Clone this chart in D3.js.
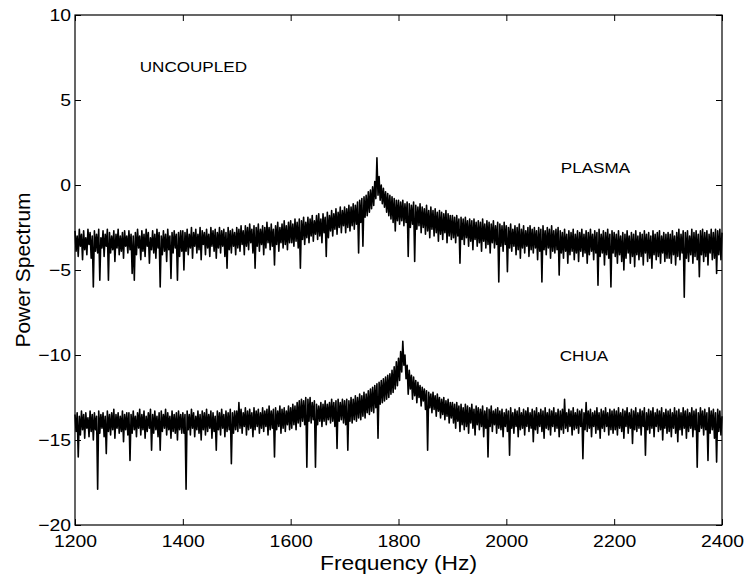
<!DOCTYPE html>
<html>
<head>
<meta charset="utf-8">
<script src="https://cdn.jsdelivr.net/npm/d3@7"></script>
<style>
  body { margin: 0; background: #fff; }
  svg { display: block; }
  text { font-family: "Liberation Sans", Arial, Helvetica, sans-serif; fill: #000; }
</style>
</head>
<body>
<div class="viz"></div>
<script>
// spectra, one value every 2 Hz from 1200 to 2400
var freqStart = 1200,
    freqStep = 2;

var plasma = [
  // 1200-1298
  -2.7, -3.9, -3.0, -4.2, -2.6, -3.6, -2.9, -4.4, -2.7, -3.8, -3.1, -4.1, -2.6, -3.5, -2.8, -4.3, -3.0, -6.0, -2.7, -3.9,
  -2.9, -4.0, -2.6, -5.6, -3.1, -3.7, -2.7, -4.2, -2.9, -3.6, -2.6, -5.6, -2.8, -4.0, -3.0, -3.8, -2.7, -4.5, -2.9, -3.7,
  -2.6, -4.1, -3.0, -3.9, -2.8, -4.3, -2.7, -3.6, -3.0, -4.0,
  // 1300-1398
  -2.7, -3.8, -2.9, -5.2, -3.0, -5.6, -2.8, -4.1, -2.6, -3.7, -3.0, -4.4, -2.7, -3.9, -2.9, -4.2, -2.6, -3.6, -2.8, -4.6,
  -3.1, -3.8, -2.7, -4.0, -2.9, -4.3, -2.6, -3.7, -2.8, -6.0, -3.0, -4.1, -2.7, -3.9, -2.9, -4.5, -2.6, -3.8, -3.0, -5.5,
  -2.8, -4.0, -2.7, -3.7, -2.9, -5.6, -2.8, -4.2, -2.7, -3.9,
  // 1400-1498
  -2.7, -5.0, -2.8, -3.9, -2.6, -4.1, -2.9, -3.7, -2.5, -4.3, -2.8, -3.6, -2.6, -4.0, -2.9, -3.8, -2.5, -4.4, -2.7, -3.5,
  -2.8, -4.1, -2.6, -3.7, -2.9, -4.2, -2.5, -3.6, -2.7, -3.9, -2.6, -4.3, -2.8, -3.7, -2.5, -4.0, -2.7, -3.6, -2.6, -4.2,
  -2.8, -4.9, -2.5, -3.8, -2.7, -4.0, -2.6, -3.6, -2.8, -4.1,
  // 1500-1598
  -2.5, -3.7, -2.6, -3.9, -2.4, -3.5, -2.7, -4.1, -2.4, -3.6, -2.5, -3.8, -2.3, -3.4, -2.6, -4.0, -2.4, -4.9, -2.5, -3.6,
  -2.3, -3.9, -2.6, -3.5, -2.4, -4.1, -2.5, -3.7, -2.2, -3.4, -2.5, -3.8, -2.3, -3.6, -2.6, -4.7, -2.4, -3.5, -2.2, -3.9,
  -2.5, -3.4, -2.3, -3.7, -2.1, -3.5, -2.4, -3.8, -2.2, -3.4,
  // 1600-1698
  -2.1, -3.4, -2.3, -3.6, -2.0, -3.3, -2.2, -3.7, -2.0, -4.9, -2.1, -3.2, -1.9, -3.5, -2.2, -3.1, -1.9, -3.4, -2.0, -3.0,
  -1.8, -3.3, -2.1, -2.9, -1.8, -3.2, -1.7, -3.0, -2.0, -3.4, -1.7, -2.8, -1.9, -4.2, -1.6, -3.1, -1.8, -2.7, -1.5, -3.0,
  -1.7, -2.6, -1.4, -2.9, -1.6, -2.5, -1.3, -2.8, -1.5, -2.4,
  // 1700-1798
  -1.3, -2.8, -1.4, -2.5, -1.2, -2.7, -1.3, -2.4, -1.1, -2.6, -1.2, -2.3, -1.0, -4.0, -0.9, -2.2, -0.8, -3.6, -0.7, -1.9,
  -0.6, -1.8, -0.4, -1.6, -0.3, -1.4, -0.1, -1.2, 0.2, -0.8, 1.6, -0.6, 0.5, -0.9, 0.0, -1.1, -0.2, -1.3, -0.4, -1.6,
  -0.5, -1.8, -0.6, -2.0, -0.7, -2.2, -0.8, -2.7, -0.9, -2.1,
  // 1800-1898
  -0.9, -2.3, -1.0, -2.1, -0.9, -2.4, -1.1, -2.2, -1.0, -4.2, -1.1, -2.5, -1.2, -2.3, -1.0, -4.5, -1.2, -2.6, -1.3, -2.4,
  -1.1, -2.8, -1.3, -2.5, -1.4, -2.9, -1.2, -2.7, -1.5, -3.1, -1.3, -2.6, -1.5, -3.0, -1.4, -2.8, -1.6, -3.3, -1.5, -2.9,
  -1.6, -3.2, -1.7, -2.8, -1.5, -3.4, -1.7, -3.0, -1.8, -3.2,
  // 1900-1998
  -1.8, -3.1, -1.9, -3.4, -1.8, -3.0, -2.0, -4.6, -1.9, -3.2, -2.0, -3.5, -1.9, -3.1, -2.1, -3.6, -2.0, -3.3, -2.1, -3.8,
  -2.0, -3.2, -2.2, -3.6, -2.1, -3.4, -2.2, -3.9, -2.0, -3.3, -2.3, -3.7, -2.1, -3.5, -2.2, -4.0, -2.3, -3.4, -2.1, -3.7,
  -2.4, -3.5, -2.2, -5.7, -2.3, -3.6, -2.4, -3.9, -2.2, -3.5,
  // 2000-2098
  -2.4, -5.1, -2.5, -3.7, -2.3, -3.9, -2.6, -3.6, -2.4, -4.1, -2.5, -3.8, -2.3, -4.3, -2.6, -3.7, -2.4, -4.0, -2.7, -3.6,
  -2.5, -4.2, -2.4, -3.8, -2.6, -4.0, -2.5, -3.7, -2.7, -4.4, -2.5, -3.9, -2.6, -5.7, -2.4, -3.8, -2.7, -4.1, -2.5, -3.7,
  -2.6, -4.3, -2.4, -3.9, -2.7, -4.0, -2.6, -3.8, -2.5, -5.3,
  // 2100-2198
  -2.7, -4.0, -2.8, -4.3, -2.6, -3.9, -2.9, -4.6, -2.7, -4.1, -2.8, -3.9, -2.6, -4.4, -2.9, -4.0, -2.7, -4.5, -2.8, -3.9,
  -2.6, -4.2, -2.9, -4.0, -2.7, -4.6, -2.8, -4.1, -2.6, -3.9, -2.9, -4.4, -2.7, -4.0, -2.8, -5.9, -2.6, -4.2, -2.9, -4.0,
  -2.7, -4.7, -2.8, -4.1, -2.6, -4.3, -2.9, -6.0, -2.7, -4.0,
  // 2200-2298
  -2.8, -4.2, -2.9, -4.6, -2.7, -4.1, -3.0, -4.5, -2.8, -5.0, -2.9, -4.3, -2.7, -4.0, -3.0, -4.6, -2.8, -4.2, -2.9, -4.8,
  -2.7, -4.1, -3.0, -4.4, -2.8, -4.2, -2.9, -4.7, -2.7, -4.0, -2.9, -4.5, -2.8, -4.3, -3.0, -4.9, -2.7, -4.1, -2.9, -4.4,
  -2.8, -4.2, -2.7, -4.6, -3.0, -4.0, -2.8, -4.5, -2.9, -4.3,
  // 2300-2400
  -2.8, -4.3, -2.9, -4.6, -2.7, -4.1, -3.0, -4.7, -2.8, -4.2, -2.6, -4.4, -2.9, -4.0, -2.7, -6.6, -2.8, -4.3, -2.7, -4.5,
  -3.0, -4.1, -2.6, -4.6, -2.8, -4.2, -2.7, -4.4, -2.9, -5.4, -2.7, -4.1, -2.6, -4.5, -2.8, -4.2, -2.7, -4.7, -2.9, -4.0,
  -2.6, -4.4, -2.8, -4.3, -2.6, -5.2, -2.7, -4.1, -2.6, -4.4,
  -2.8
];

var chua = [
  // 1200-1298
  -13.5, -14.5, -13.4, -16.0, -13.6, -14.7, -13.3, -14.4, -13.5, -14.9, -13.4, -14.3, -13.7, -14.8, -13.3, -14.5, -13.5, -15.0, -13.4, -14.4,
  -13.6, -17.9, -13.3, -14.6, -13.5, -14.3, -13.4, -14.8, -13.6, -15.8, -13.3, -14.5, -13.5, -14.7, -13.4, -14.4, -13.2, -14.9, -13.5, -14.3,
  -13.4, -14.6, -13.6, -14.5, -13.3, -15.1, -13.5, -14.4, -13.4, -14.7,
  // 1300-1398
  -13.4, -16.2, -13.5, -14.6, -13.3, -14.4, -13.6, -14.8, -13.4, -14.3, -13.2, -14.7, -13.5, -14.4, -13.3, -14.9, -13.6, -14.5, -13.4, -14.3,
  -13.2, -15.6, -13.5, -14.6, -13.3, -14.4, -13.6, -14.8, -13.4, -15.6, -13.3, -14.5, -13.5, -14.3, -13.2, -14.7, -13.4, -14.4, -13.6, -14.9,
  -13.3, -14.5, -13.5, -14.6, -13.4, -15.0, -13.3, -14.4, -13.5, -14.6,
  // 1400-1498
  -13.4, -14.6, -13.5, -17.9, -13.3, -14.4, -13.5, -14.7, -13.2, -14.3, -13.4, -14.8, -13.6, -14.4, -13.3, -14.6, -13.5, -15.0, -13.3, -14.4,
  -13.4, -14.7, -13.2, -14.5, -13.5, -14.3, -13.3, -14.9, -13.4, -14.5, -13.6, -15.6, -13.3, -14.4, -13.4, -14.7, -13.2, -14.3, -13.5, -14.8,
  -13.3, -14.5, -13.4, -14.4, -13.2, -16.4, -13.4, -14.6, -13.3, -14.4,
  // 1500-1598
  -13.3, -14.5, -12.8, -14.3, -13.2, -14.6, -13.4, -14.2, -13.1, -14.7, -13.3, -14.4, -13.2, -14.3, -13.4, -14.8, -13.1, -14.4, -13.3, -14.2,
  -13.2, -14.6, -13.4, -14.3, -13.1, -14.5, -13.3, -14.2, -13.2, -14.7, -13.0, -14.4, -13.3, -14.3, -13.2, -16.0, -13.1, -14.4, -13.3, -14.2,
  -13.0, -14.6, -13.2, -14.3, -13.1, -14.5, -13.3, -14.1, -13.0, -14.4,
  // 1600-1698
  -13.1, -14.3, -12.9, -14.1, -13.0, -14.4, -12.8, -14.0, -12.7, -14.2, -12.6, -13.9, -12.7, -14.1, -12.5, -16.6, -12.6, -13.9, -12.5, -14.0,
  -12.8, -13.8, -12.7, -16.6, -12.9, -14.1, -13.0, -13.9, -12.8, -14.2, -12.9, -13.9, -12.7, -14.1, -12.9, -13.8, -12.8, -14.0, -12.6, -13.9,
  -12.8, -14.2, -12.7, -15.5, -12.6, -13.9, -12.8, -13.8, -12.6, -14.0,
  // 1700-1798
  -12.7, -14.1, -12.6, -15.6, -12.7, -13.9, -12.5, -14.0, -12.6, -13.8, -12.4, -13.9, -12.5, -13.7, -12.3, -13.8, -12.4, -13.6, -12.2, -13.7,
  -12.3, -13.4, -12.1, -13.5, -12.0, -13.3, -11.9, -13.4, -11.8, -13.1, -11.7, -14.9, -11.6, -12.9, -11.5, -12.8, -11.4, -12.7, -11.3, -12.6,
  -11.2, -12.5, -11.1, -12.3, -10.9, -12.2, -10.7, -12.0, -10.4, -11.8,
  // 1800-1898
  -10.2, -11.5, -9.8, -11.0, -9.2, -10.6, -10.0, -11.4, -10.6, -12.3, -10.9, -12.0, -11.2, -12.6, -11.3, -12.4, -11.5, -12.8, -11.6, -12.5,
  -11.8, -13.0, -11.9, -12.7, -12.0, -13.2, -12.1, -15.6, -12.2, -13.1, -12.3, -13.4, -12.2, -13.2, -12.4, -13.6, -12.3, -13.3, -12.5, -13.7,
  -12.6, -13.5, -12.5, -13.8, -12.7, -13.6, -12.6, -14.0, -12.8, -13.7,
  // 1900-1998
  -12.8, -14.0, -12.9, -14.3, -12.8, -13.9, -13.0, -14.5, -12.9, -14.1, -13.1, -14.4, -12.9, -14.2, -13.0, -14.6, -13.1, -14.0, -12.9, -14.3,
  -13.2, -14.7, -13.0, -14.1, -13.1, -14.4, -13.2, -14.2, -13.0, -14.8, -13.3, -14.3, -13.1, -16.0, -13.2, -14.2, -13.0, -14.5, -13.3, -14.1,
  -13.2, -14.6, -13.1, -14.3, -13.3, -14.4, -13.2, -14.8, -13.4, -14.2,
  // 2000-2098
  -13.2, -14.5, -13.3, -15.9, -13.1, -14.3, -13.4, -14.6, -13.2, -14.2, -13.3, -14.8, -13.1, -14.4, -13.4, -14.3, -13.2, -14.7, -13.3, -14.2,
  -13.1, -14.5, -13.4, -14.3, -13.2, -15.1, -13.3, -14.4, -13.1, -14.6, -13.4, -14.2, -13.2, -14.5, -13.3, -14.9, -13.1, -14.3, -13.4, -14.4,
  -13.2, -14.7, -13.3, -14.2, -13.1, -14.5, -13.4, -14.3, -13.2, -14.8,
  // 2100-2198
  -13.3, -14.4, -13.2, -14.6, -12.6, -14.3, -13.4, -14.5, -13.2, -14.2, -13.3, -14.7, -13.1, -14.4, -13.4, -14.3, -13.2, -14.6, -13.3, -14.2,
  -13.2, -16.1, -13.4, -14.4, -12.8, -14.5, -13.3, -14.3, -13.2, -14.8, -13.4, -14.2, -13.3, -14.6, -13.1, -14.4, -13.4, -14.9, -13.2, -14.3,
  -13.3, -14.5, -13.1, -14.2, -13.4, -14.7, -13.2, -14.4, -13.3, -14.6,
  // 2200-2298
  -13.2, -14.4, -13.3, -14.7, -13.1, -14.3, -13.4, -14.5, -13.2, -14.9, -13.3, -14.2, -13.1, -14.6, -13.4, -14.3, -13.2, -15.2, -13.3, -14.4,
  -13.1, -14.5, -13.4, -14.3, -13.2, -14.7, -13.3, -14.2, -13.1, -15.9, -13.4, -14.4, -13.2, -14.6, -13.3, -14.3, -13.1, -14.8, -13.4, -14.2,
  -13.2, -14.5, -13.3, -14.4, -13.1, -15.0, -13.4, -14.3, -13.2, -14.6,
  // 2300-2400
  -13.3, -14.5, -13.2, -14.8, -13.4, -14.3, -13.1, -14.6, -13.3, -15.1, -13.2, -14.4, -13.4, -14.7, -13.1, -14.3, -13.3, -14.9, -13.2, -14.5,
  -13.4, -14.3, -13.1, -14.8, -13.3, -14.4, -13.2, -16.6, -13.4, -14.5, -13.1, -14.3, -13.3, -14.7, -13.2, -14.4, -13.4, -16.2, -13.1, -14.6,
  -13.3, -14.4, -13.2, -14.9, -13.4, -16.3, -13.2, -14.5, -13.3, -14.7,
  -13.6
];

var xTicks = [1200, 1400, 1600, 1800, 2000, 2200, 2400];
var yTicks = [-20, -15, -10, -5, 0, 5, 10];

var labels = [
  { text: "UNCOUPLED", f: 1320, v: 6.65 },
  { text: "PLASMA", f: 2101, v: 0.7 },
  { text: "CHUA", f: 2099, v: -10.35 },
];

var W = 747, H = 580,
    margin = { top: 15, right: 25, bottom: 55, left: 75 },
    width = W - margin.left - margin.right,
    height = H - margin.top - margin.bottom,
    stretch = 1.14; // text in the picture is a bit wider than normal

var x = d3.scaleLinear().domain([1200, 2400]).range([0, width]);
var y = d3.scaleLinear().domain([-20, 10]).range([height, 0]);

var svg = d3.select(".viz")
    .append("svg")
    .attr("width", W)
    .attr("height", H);

var g = svg.append("g")
    .attr("transform", `translate(${margin.left},${margin.top})`);

var line = d3.line()
    .x((d, i) => x(freqStart + i * freqStep))
    .y((d) => y(d));

[plasma, chua].forEach((s) => {
    g.append("path")
        .datum(s)
        .attr("d", line)
        .attr("fill", "none")
        .attr("stroke", "#000")
        .attr("stroke-width", 1.6)
        .attr("stroke-linejoin", "round");
});

// axes, ticks pointing into the box
var axisBottom = d3.axisBottom(x).tickValues(xTicks).tickFormat(d3.format("d"))
    .tickSizeInner(-6).tickSizeOuter(0).tickPadding(10);
var axisTop = d3.axisTop(x).tickValues(xTicks).tickSizeInner(-6).tickSizeOuter(0).tickFormat("");
var axisLeft = d3.axisLeft(y).tickValues(yTicks).tickSizeInner(-6).tickSizeOuter(0).tickPadding(3.5);
var axisRight = d3.axisRight(y).tickValues(yTicks).tickSizeInner(-6).tickSizeOuter(0).tickFormat("");

var gb = g.append("g").attr("transform", `translate(0,${height})`).call(axisBottom);
var gt = g.append("g").call(axisTop);
var gl = g.append("g").call(axisLeft);
var gr = g.append("g").attr("transform", `translate(${width},0)`).call(axisRight);

[gb, gt, gl, gr].forEach((a) => {
    a.select(".domain").remove();
    a.selectAll(".tick line").attr("stroke", "#000").attr("stroke-width", 1);
    a.selectAll(".tick text")
        .style("font-size", "17px")
        .attr("fill", "#000")
        .attr("transform", `scale(${stretch},1)`);
});

g.append("rect")
    .attr("width", width)
    .attr("height", height)
    .attr("fill", "none")
    .attr("stroke", "#000")
    .attr("stroke-width", 1.2);

// labels
g.append("text")
    .attr("transform", `translate(${width / 2},${height + 45}) scale(${stretch},1)`)
    .attr("text-anchor", "middle")
    .style("font-size", "20px")
    .text("Frequency (Hz)");

svg.append("text")
    .attr("transform", `translate(30,${margin.top + height / 2}) rotate(-90)`)
    .attr("text-anchor", "middle")
    .style("font-size", "21px")
    .text("Power Spectrum");

g.selectAll(".note")
    .data(labels)
    .enter()
    .append("text")
    .attr("class", "note")
    .attr("transform", (d) => `translate(${x(d.f)},${y(d.v)}) scale(${stretch},1)`)
    .style("font-size", "15px")
    .text((d) => d.text);
</script>
</body>
</html>
